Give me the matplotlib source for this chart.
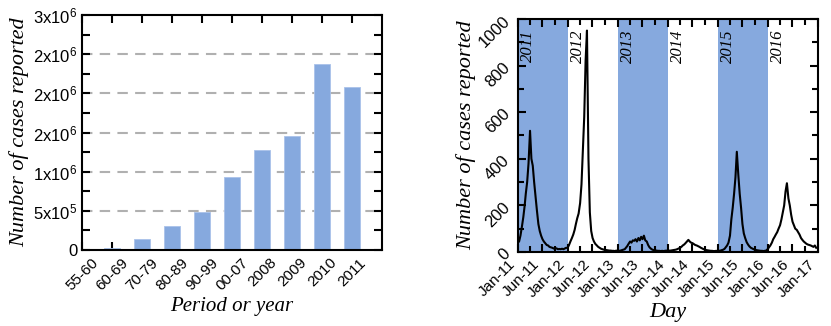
import datetime as dt
import matplotlib
matplotlib.use('Agg')
import matplotlib.pyplot as plt
import matplotlib.dates as mdates
from matplotlib.ticker import FixedLocator, MultipleLocator

# left panel: cases per period / year
periods = ['55-60', '60-69', '70-79', '80-89', '90-99', '00-07',
           '2008', '2009', '2010', '2011']
period_cases = [5e3, 3e4, 1.36e5, 3.05e5, 4.9e5, 9.3e5,
                1.28e6, 1.45e6, 2.38e6, 2.08e6]
left_yticks = [0, 5e5, 1e6, 1.5e6, 2e6, 2.5e6, 3e6]
left_ylabels = ['0', '5x10$^5$', '1x10$^6$', '2x10$^6$', '2x10$^6$',
                '2x10$^6$', '3x10$^6$']

cases_2011 = [40, 45, 70, 110, 150, 200, 250, 300, 380, 520, 400, 370,
              300, 240, 180, 120, 90, 70, 55, 45, 38, 30, 28, 22,
              20, 18, 15, 14, 16, 12, 13, 12, 14, 12, 15, 18]
cases_2012 = [18, 30, 45, 60, 75, 95, 120, 145, 165, 210, 290, 430,
              580, 820, 950, 400, 170, 90, 60, 45, 35, 28, 22, 18,
              14, 12, 10, 9, 8, 7, 6, 6, 5, 5, 4, 6]
cases_2013 = [4, 5, 6, 8, 10, 12, 18, 25, 35, 45, 40, 50,
              48, 55, 45, 60, 50, 65, 55, 70, 50, 45, 30, 20,
              14, 10, 8, 7, 6, 5, 5, 4, 5, 4, 5, 6]
cases_2014 = [5, 6, 6, 7, 8, 9, 10, 12, 15, 18, 22, 28,
              32, 38, 45, 52, 45, 40, 38, 34, 30, 28, 25, 22,
              18, 15, 12, 10, 8, 7, 6, 5, 5, 4, 4, 5]
cases_2015 = [4, 5, 6, 8, 10, 14, 20, 28, 40, 70, 140, 190,
              250, 320, 430, 330, 250, 190, 120, 80, 60, 42, 32, 24,
              18, 15, 12, 10, 8, 7, 6, 5, 5, 4, 5, 6]
cases_2016 = [12, 20, 28, 40, 55, 65, 75, 85, 100, 115, 140, 170,
              200, 260, 295, 230, 200, 160, 130, 115, 100, 95, 85, 75,
              60, 52, 45, 40, 35, 32, 30, 28, 25, 22, 28, 18]
years = [2011, 2012, 2013, 2014, 2015, 2016]
shaded_years = [2011, 2013, 2015]

blue = '#86a9de'
serif = 'Liberation Serif'
plt.rcParams['font.family'] = 'Liberation Sans'
plt.rcParams['mathtext.default'] = 'regular'

fig = plt.figure(figsize=(8.31, 3.26), dpi=100)

# ---- left: bars
ax1 = fig.add_axes([0.0987, 0.233, 0.361, 0.721])
for y in left_yticks[1:-1]:
    ax1.axhline(y, color='#b0b0b0', lw=1.5, ls=(0, (5, 3.5)), zorder=0)
ax1.bar(range(len(periods)), period_cases, width=0.55, color=blue,
        edgecolor='#a9c2ea', lw=0.6, zorder=2)
ax1.set_xlim(0, 10)
ax1.set_ylim(0, 3e6)
ax1.set_xticks(range(len(periods)))
ax1.set_xticklabels(periods, rotation=45, ha='center', fontsize=11)
ax1.yaxis.set_major_locator(FixedLocator(left_yticks))
ax1.set_yticklabels(left_ylabels, fontsize=12)
ax1.yaxis.set_minor_locator(MultipleLocator(2.5e5))
ax1.tick_params(which='both', direction='in', top=True, right=True,
                width=1.5, length=6, zorder=3)
ax1.tick_params(axis='x', pad=4)
ax1.set_ylabel('Number of cases reported', family=serif, style='italic',
               fontsize=16, labelpad=3)
ax1.set_xlabel('Period or year', family=serif, style='italic', fontsize=15,
               labelpad=3)
for s in ax1.spines.values():
    s.set_linewidth(1.5)
    s.set_zorder(4)

# ---- right: daily series
dates = []
for yr in years:
    for m in range(1, 13):
        for d in (1, 11, 21):
            dates.append(dt.date(yr, m, d))
cases = cases_2011 + cases_2012 + cases_2013 + cases_2014 + cases_2015 + cases_2016

ax2 = fig.add_axes([0.623, 0.227, 0.361, 0.715])
for yr in shaded_years:
    ax2.axvspan(dt.date(yr, 1, 1), dt.date(yr + 1, 1, 1), color=blue, lw=0,
                zorder=0)
for yr in years:
    ax2.text(dt.date(yr, 3, 20), 955, str(yr), rotation=90, ha='center',
             va='top', family=serif, style='italic', fontsize=12)
ax2.plot(dates, cases, color='black', lw=1.5, zorder=2)
ax2.set_xlim(dt.date(2011, 1, 1), dt.date(2017, 1, 1))
ax2.set_ylim(0, 1000)
xt = []
xl = []
for yr in years + [2017]:
    xt.append(dt.date(yr, 1, 1))
    xl.append('Jan-%02d' % (yr % 100))
    if yr < 2017:
        xt.append(dt.date(yr, 6, 30))
        xl.append('Jun-%02d' % (yr % 100))
ax2.set_xticks(xt)
ax2.set_xticklabels(xl, rotation=45, ha='right', fontsize=11)
ax2.xaxis.set_minor_locator(mdates.MonthLocator(bymonth=[4, 10]))
ax2.yaxis.set_major_locator(MultipleLocator(200))
ax2.yaxis.set_minor_locator(MultipleLocator(100))
for lab in ax2.get_yticklabels():
    lab.set_rotation(45)
    lab.set_fontsize(12)
ax2.tick_params(which='both', direction='in', top=True, right=True, width=1.5)
ax2.tick_params(which='major', length=6)
ax2.tick_params(which='minor', length=4)
ax2.set_ylabel('Number of cases reported', family=serif, style='italic',
               fontsize=16, labelpad=0)
ax2.set_xlabel('Day', family=serif, style='italic', fontsize=16, labelpad=2)
for s in ax2.spines.values():
    s.set_linewidth(1.5)
    s.set_zorder(4)

fig.savefig('out.png', dpi=100)
